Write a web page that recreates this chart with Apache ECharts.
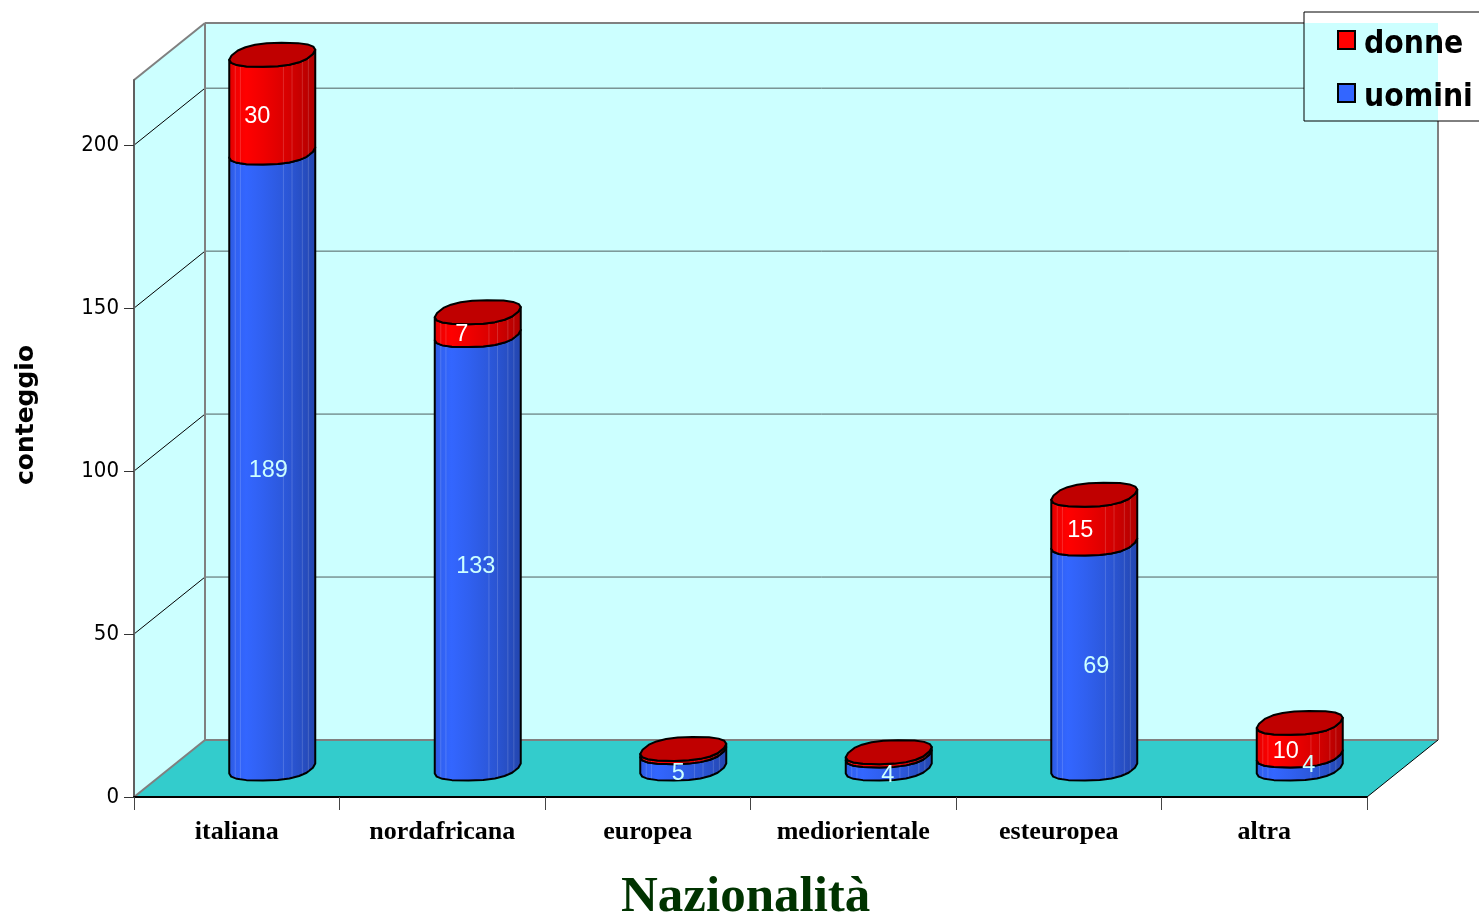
<!DOCTYPE html>
<html>
<head>
<meta charset="utf-8">
<style>html,body{margin:0;padding:0;background:#fff}#c{width:1479px;height:919px}</style>
<script src="https://cdn.jsdelivr.net/npm/echarts@6/dist/echarts.min.js"></script>
</head>
<body>
<div id="c"></div>
<script>
const categories = ['italiana', 'nordafricana', 'europea', 'mediorientale', 'esteuropea', 'altra'];
const uomini = [189, 133, 5, 4, 69, 4];
const donne = [30, 7, 1, 1, 15, 10];
const yTicks = [0, 50, 100, 150, 200];
const hiddenLabelsDonne = ['europea', 'mediorientale'];

// layout (not data)
const DEPTH_X = 71, DEPTH_Y = 57;
const HALF_W = 43, R_DY = 12, R_SKEW = 0.3, R_POW = 0.8;
const nudgeU = [[-4, 10], [-2, 15], [-5, 13.5], [-1, 13.5], [2, 10], [9, 4]];
const nudgeD = [[-15, 13], [-16, 11], [0, 0], [0, 0], [-14, 11], [-14, 12.5]];
const seams = [0.07, 0.13, 0.63, 0.73, 0.85, 0.92];

function spow(v) { return Math.sign(v) * Math.pow(Math.abs(v), R_POW); }
function rawPt(t) {
  const c = spow(Math.cos(t)), s = spow(Math.sin(t));
  return [c + s * R_SKEW, -s * R_DY];
}
// locate the silhouette's extreme points of the cap outline
let T_R = 0, maxX = -Infinity;
for (let i = 0; i < 720; i++) {
  const t = i * Math.PI / 360, x = rawPt(t)[0];
  if (x > maxX) { maxX = x; T_R = t; }
}
const X_SCALE = HALF_W / maxX;
function ellipsePt(cx, cy, t) {
  const p = rawPt(t);
  return [cx + p[0] * X_SCALE, cy + p[1]];
}
function frontArc(cx, cy, n) {
  const out = [];
  for (let i = 0; i <= n; i++) out.push(ellipsePt(cx, cy, T_R + Math.PI + Math.PI * i / n));
  return out;
}
function fullRing(cx, cy, n) {
  const out = [];
  for (let i = 0; i < n; i++) out.push(ellipsePt(cx, cy, T_R + 2 * Math.PI * i / n));
  return out;
}
function arcAtFrac(f) {
  let lo = T_R + Math.PI, hi = T_R + 2 * Math.PI;
  const left = ellipsePt(0, 0, lo)[0], right = ellipsePt(0, 0, hi)[0];
  const target = left + (right - left) * f;
  for (let i = 0; i < 24; i++) {
    const m = (lo + hi) / 2;
    if (ellipsePt(0, 0, m)[0] < target) lo = m; else hi = m;
  }
  return ellipsePt(0, 0, lo);
}
function gradient(r, g, b) {
  const shade = [[0, .86], [.07, .94], [.2, 1], [.4, .94], [.63, .86], [.73, .82], [.85, .76], [1, .68]];
  return new echarts.graphic.LinearGradient(0, 0, 1, 0, shade.map(s => ({
    offset: s[0],
    color: `rgb(${Math.round(r * s[1])},${Math.round(g * s[1])},${Math.round(b * s[1])})`
  })));
}

function cylinderItem(api, rgb, withTop) {
  const idx = api.value(0), base = api.value(1), val = api.value(2);
  const pBase = api.coord([idx, base]);
  const pTop = api.coord([idx, base + val]);
  const cx = pBase[0] + DEPTH_X / 2;
  const yb = pBase[1] - DEPTH_Y / 2;
  const yt = pTop[1] - DEPTH_Y / 2;
  const n = 10;
  const topArc = frontArc(cx, yt, n);
  const botArc = frontArc(cx, yb, n).reverse();
  const children = [{
    type: 'polygon',
    shape: { points: topArc.concat(botArc) },
    style: { fill: gradient(rgb[0], rgb[1], rgb[2]), stroke: '#000', lineWidth: 2, lineJoin: 'round' }
  }];
  seams.forEach(f => {
    const a = arcAtFrac(f);
    children.push({
      type: 'line',
      shape: { x1: cx + a[0], y1: yt + a[1] + 1, x2: cx + a[0], y2: yb + a[1] - 1 },
      style: { stroke: 'rgba(255,255,255,0.16)', lineWidth: 1 }
    });
  });
  if (withTop) {
    children.push({
      type: 'polygon',
      shape: { points: fullRing(cx, yt, 20) },
      style: { fill: '#c00000', stroke: '#000', lineWidth: 2, lineJoin: 'round' }
    });
  }
  return { type: 'group', children };
}

function labelItem(api, color, nudge) {
  const idx = api.value(0), base = api.value(1), val = api.value(2);
  const p = api.coord([idx, base + val / 2]);
  return {
    type: 'text',
    style: {
      x: p[0] + DEPTH_X / 2 + nudge[idx][0], y: p[1] - DEPTH_Y / 2 + nudge[idx][1],
      text: String(val), fill: color, align: 'center', verticalAlign: 'middle',
      font: '23.5px "Liberation Sans", Arial, sans-serif'
    }
  };
}

function frameItem(params, api) {
  const g = params.coordSys;
  const L = g.x, R = g.x + g.width, T = g.y, B = g.y + g.height;
  const dx = DEPTH_X, dy = DEPTH_Y;
  const grey = '#808080';
  const c = [];
  const poly = (pts, fill) => c.push({ type: 'polygon', shape: { points: pts }, style: { fill, stroke: 'none' } });
  const line = (x1, y1, x2, y2, stroke, w) => c.push({ type: 'line', shape: { x1, y1, x2, y2 }, style: { stroke, lineWidth: w } });
  poly([[L + dx, T - dy], [R + dx, T - dy], [R + dx, B - dy], [L + dx, B - dy]], '#ccffff');
  poly([[L, T], [L + dx, T - dy], [L + dx, B - dy], [L, B]], '#ccffff');
  poly([[L, B], [L + dx, B - dy], [R + dx, B - dy], [R, B]], '#33cccc');
  yTicks.slice(1).forEach(v => {
    const y = api.coord([0, v])[1];
    line(L, y, L + dx, y - dy, '#000', 1);
    line(L + dx, y - dy, R + dx, y - dy, '#4f5f5f', 1);
  });
  line(L + dx, T - dy, R + dx, T - dy, grey, 2);
  line(L + dx, T - dy, L + dx, B - dy, grey, 2);
  line(R + dx, T - dy, R + dx, B - dy, grey, 2);
  line(L, T, L + dx, T - dy, grey, 2);
  line(L + dx, B - dy, R + dx, B - dy, grey, 2);
  line(L, B, L + dx, B - dy, grey, 2);
  line(R, B, R + dx, B - dy, '#000', 1);
  // legend panel: hides wall borders and gridlines under it
  const bx = 1304, by = 12;
  c.push({ type: 'rect', shape: { x: bx, y: by, width: 180, height: 109 }, style: { fill: '#fff', stroke: 'none' } });
  c.push({ type: 'rect', shape: { x: bx, y: T - dy, width: R + dx - bx, height: by + 109 - (T - dy) }, style: { fill: '#ccffff', stroke: 'none' } });
  c.push({ type: 'rect', shape: { x: bx, y: by, width: 180, height: 109 }, style: { fill: 'none', stroke: '#000', lineWidth: 1 } });
  return { type: 'group', children: c };
}

const legendFont = { fontFamily: '"DejaVu Sans Condensed", "DejaVu Sans", sans-serif', fontWeight: 'bold', fontSize: 31.5, color: '#000' };

const chart = echarts.init(document.getElementById('c'), null, { renderer: 'canvas' });
chart.setOption({
  animation: false,
  backgroundColor: '#fff',
  title: {
    text: 'Nazionalità', left: 616, top: 867,
    textStyle: { fontFamily: '"Liberation Serif", serif', fontWeight: 'bold', fontSize: 51, color: '#003300' }
  },
  graphic: [{
    type: 'text', x: 26, y: 415, rotation: Math.PI / 2, z: 10,
    style: {
      text: 'conteggio', align: 'center', verticalAlign: 'middle', fill: '#000',
      font: 'bold 25px "DejaVu Sans", sans-serif'
    }
  }],
  legend: {
    data: ['donne', 'uomini'], orient: 'vertical', left: 1337, top: 19, itemWidth: 17, itemHeight: 18,
    itemGap: 11, icon: 'rect', selectedMode: false, padding: 0,
    itemStyle: { borderColor: '#000', borderWidth: 2 },
    formatter: name => `{s|}{t|${name}}`,
    textStyle: Object.assign({}, legendFont, {
      padding: [0, 0, 0, 4],
      rich: {
        s: { width: 0, height: 42, lineHeight: 42, fontSize: 1 },
        t: Object.assign({}, legendFont, { lineHeight: 36, verticalAlign: 'bottom' })
      }
    })
  },
  grid: { left: 134, top: 80, right: 112, bottom: 122 },
  xAxis: {
    type: 'category', data: categories, z: 2,
    axisLine: { show: true, lineStyle: { color: '#000', width: 2 } },
    axisTick: { show: true, length: 13, lineStyle: { color: '#444', width: 1 } },
    axisLabel: {
      margin: 22, color: '#000', interval: 0,
      fontFamily: '"Liberation Serif", serif', fontWeight: 'bold', fontSize: 26
    }
  },
  yAxis: {
    type: 'value', min: 0, max: 220, interval: 50, z: 2,
    splitLine: { show: false },
    axisLine: { show: true, lineStyle: { color: '#606060', width: 2 } },
    axisTick: { show: true, length: 10, customValues: yTicks, lineStyle: { color: '#333', width: 1 } },
    axisLabel: { margin: 15, customValues: yTicks, color: '#000', fontFamily: '"DejaVu Sans Condensed", "DejaVu Sans", sans-serif', fontSize: 22 }
  },
  series: [
    {
      name: 'frame', type: 'custom', z: 1, silent: true, coordinateSystem: 'cartesian2d',
      renderItem: frameItem, data: [[0, 0]], encode: { x: 0, y: 1 }
    },
    {
      name: 'uomini', type: 'custom', z: 3, coordinateSystem: 'cartesian2d',
      itemStyle: { color: '#3366ff' },
      encode: { x: 0, y: 2 },
      data: uomini.map((v, i) => [i, 0, v]),
      renderItem: (p, api) => cylinderItem(api, [51, 102, 255], false)
    },
    {
      name: 'donne', type: 'custom', z: 4, coordinateSystem: 'cartesian2d',
      itemStyle: { color: '#ff0000' },
      encode: { x: 0, y: 2 },
      data: donne.map((v, i) => [i, uomini[i], v]),
      renderItem: (p, api) => cylinderItem(api, [255, 0, 0], true)
    },
    {
      name: 'etichette uomini', type: 'custom', z: 5, silent: true, coordinateSystem: 'cartesian2d',
      encode: { x: 0, y: 2 },
      data: uomini.map((v, i) => [i, 0, v]),
      renderItem: (p, api) => labelItem(api, '#ccffff', nudgeU)
    },
    {
      name: 'etichette donne', type: 'custom', z: 5, silent: true, coordinateSystem: 'cartesian2d',
      encode: { x: 0, y: 2 },
      data: donne.map((v, i) => [i, uomini[i], v]).filter(d => hiddenLabelsDonne.indexOf(categories[d[0]]) < 0),
      renderItem: (p, api) => labelItem(api, '#ffffff', nudgeD)
    }
  ]
});
</script>
</body>
</html>
